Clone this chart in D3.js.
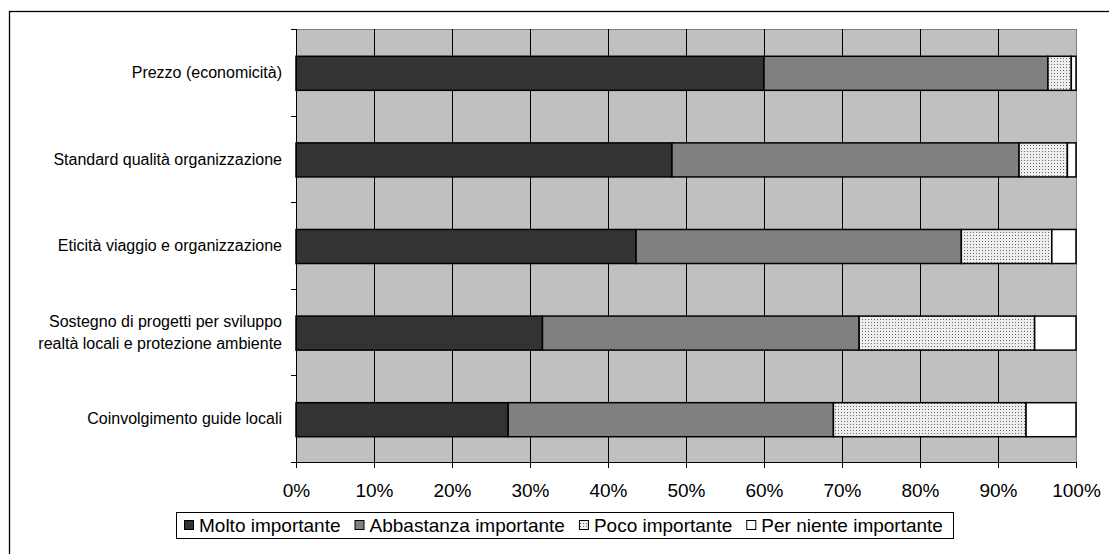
<!DOCTYPE html>
<html>
<head>
<meta charset="utf-8">
<script src="https://cdn.jsdelivr.net/npm/d3@7"></script>
<style>
  html, body { margin: 0; padding: 0; background: #fff; }
  svg { display: block; font-family: Arial, "Liberation Sans", sans-serif; }
</style>
</head>
<body>
<svg id="chart" width="1109" height="554"></svg>
<script>
// Categories, top to bottom
const categories = [
  "Prezzo (economicità)",
  "Standard qualità organizzazione",
  "Eticità viaggio e organizzazione",
  "Sostegno di progetti per sviluppo|realtà locali e protezione ambiente",
  "Coinvolgimento guide locali"
];

// Share of answers per category (%)
const molto      = [60.0, 48.2, 43.6, 31.6, 27.2];
const abbastanza = [36.4, 44.5, 41.7, 40.6, 41.7];
const poco       = [ 3.0,  6.2, 11.6, 22.5, 24.7];
const perNiente  = [ 0.6,  1.1,  3.1,  5.3,  6.4];

const seriesNames = ["Molto importante", "Abbastanza importante", "Poco importante", "Per niente importante"];
const xTicks = [0, 10, 20, 30, 40, 50, 60, 70, 80, 90, 100];

const svg = d3.select("#chart");

// Dotted fill for "Poco importante"
const defs = svg.append("defs");
const pat = defs.append("pattern")
  .attr("id", "dots").attr("patternUnits", "userSpaceOnUse")
  .attr("width", 3).attr("height", 3);
pat.append("rect").attr("width", 3).attr("height", 3).attr("fill", "#ededed");
pat.append("rect").attr("x", 1).attr("y", 1).attr("width", 1).attr("height", 1).attr("fill", "#6a6a6a");

const fills = ["#333333", "#808080", "url(#dots)", "#ffffff"];

// Outer chart frame
svg.append("rect")
  .attr("x", 9.5).attr("y", 11.5).attr("width", 1110).attr("height", 560)
  .attr("fill", "none").attr("stroke", "#000").attr("stroke-width", 1.3);

const plot = { left: 296, right: 1076, top: 29, bottom: 462 };

const x = d3.scaleLinear().domain([0, 100]).range([plot.left, plot.right]);
const yBand = d3.scaleBand().domain(categories).range([plot.top, plot.bottom]).padding(0);
const y = d3.scaleBand().domain(categories).range([plot.top + 1, plot.bottom + 1])
  .paddingInner(0.607).paddingOuter(0.3035);

// Plot background
svg.append("rect")
  .attr("x", plot.left).attr("y", plot.top)
  .attr("width", plot.right - plot.left).attr("height", plot.bottom - plot.top)
  .attr("fill", "#c0c0c0").attr("stroke", "#808080").attr("stroke-width", 1)
  .attr("shape-rendering", "crispEdges");

// Vertical gridlines
svg.append("g").selectAll("line")
  .data(xTicks.slice(1, -1)).join("line")
  .attr("x1", d => Math.round(x(d)) + 0.5).attr("x2", d => Math.round(x(d)) + 0.5)
  .attr("y1", plot.top).attr("y2", plot.bottom)
  .attr("stroke", "#000").attr("stroke-width", 1);

// Stacked bars
const rows = categories.map((c, i) => ({ cat: c, vals: [molto[i], abbastanza[i], poco[i], perNiente[i]] }));
const segs = [];
rows.forEach(r => {
  let acc = 0;
  r.vals.forEach((v, k) => {
    segs.push({ cat: r.cat, k, x0: acc, x1: acc + v });
    acc += v;
  });
});

svg.append("g").selectAll("rect")
  .data(segs).join("rect")
  .attr("x", d => x(d.x0))
  .attr("y", d => y(d.cat))
  .attr("width", d => x(d.x1) - x(d.x0))
  .attr("height", y.bandwidth())
  .attr("fill", d => fills[d.k])
  .attr("stroke", "#000").attr("stroke-width", 1.5);

// Left axis line and ticks on category boundaries
const yAxisG = svg.append("g");
yAxisG.append("line")
  .attr("x1", plot.left + 0.5).attr("x2", plot.left + 0.5)
  .attr("y1", plot.top).attr("y2", plot.bottom)
  .attr("stroke", "#000");
const bounds = categories.map(c => yBand(c)).concat([plot.bottom]);
yAxisG.selectAll("line.tk").data(bounds).join("line").attr("class", "tk")
  .attr("x1", plot.left - 5).attr("x2", plot.left)
  .attr("y1", d => Math.round(d) + 0.5).attr("y2", d => Math.round(d) + 0.5)
  .attr("stroke", "#000");

// Category labels
const labG = svg.append("g")
  .attr("font-size", 16).attr("fill", "#000").attr("text-anchor", "end");
categories.forEach(c => {
  const lines = c.split("|");
  const cy = yBand(c) + yBand.bandwidth() / 2;
  const lh = 22;
  const t = labG.append("text")
    .attr("x", 282)
    .attr("y", cy - (lines.length - 1) * lh / 2);
  lines.forEach((ln, j) => {
    t.append("tspan").attr("x", 282).attr("dy", j === 0 ? "0.35em" : lh).text(ln);
  });
});

// Bottom axis
const xAxis = d3.axisBottom(x).tickValues(xTicks).tickFormat(d => d + "%")
  .tickSizeInner(6).tickSizeOuter(0).tickPadding(16);
const xg = svg.append("g").attr("transform", `translate(0,${plot.bottom})`).call(xAxis);
xg.select(".domain").attr("stroke", "#000");
xg.selectAll(".tick line").attr("stroke", "#000");
xg.selectAll("text").attr("font-size", 19).attr("fill", "#000")
  .attr("font-family", "Arial, 'Liberation Sans', sans-serif");

// Legend
const leg = { left: 176, right: 953, top: 512, bottom: 538 };
const lg = svg.append("g");
lg.append("rect")
  .attr("x", leg.left + 0.5).attr("y", leg.top + 0.5)
  .attr("width", leg.right - leg.left).attr("height", leg.bottom - leg.top)
  .attr("fill", "#fff").attr("stroke", "#000").attr("stroke-width", 1);

let lx = 184;
const ly = (leg.top + leg.bottom) / 2;
seriesNames.forEach((name, k) => {
  lg.append("rect")
    .attr("x", lx + 0.5).attr("y", ly - 4.5)
    .attr("width", 9).attr("height", 9)
    .attr("fill", fills[k]).attr("stroke", "#000").attr("stroke-width", 1);
  const t = lg.append("text")
    .attr("x", lx + 15).attr("y", ly + 7)
    .attr("font-size", 19).attr("fill", "#000")
    .text(name);
  lx += 15 + t.node().getComputedTextLength() + 14;
});
</script>
</body>
</html>
